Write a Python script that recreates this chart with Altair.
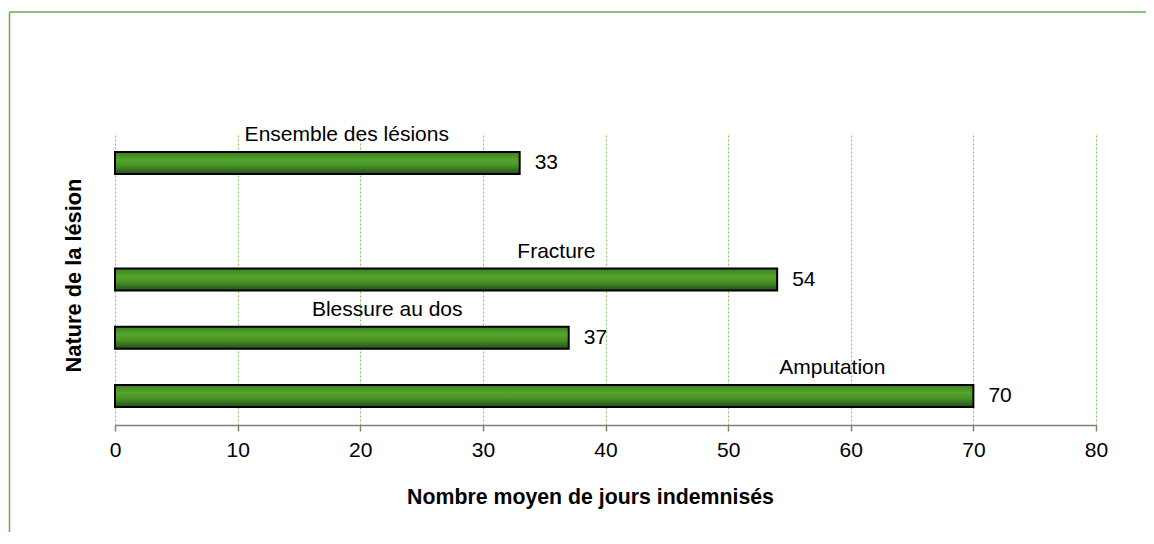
import altair as alt
import pandas as pd

# ---- data ----
categories = ["Ensemble des lésions", "Fracture", "Blessure au dos", "Amputation"]
values = [33, 54, 37, 70]
# where each category name sits along the x axis (in days)
label_anchor = [18.9, 36.0, 22.2, 58.5]
slot_order = ["Ensemble des lésions", " ", "Fracture", "Blessure au dos", "Amputation"]
x_ticks = [0, 10, 20, 30, 40, 50, 60, 70, 80]

x_title = "Nombre moyen de jours indemnisés"
y_title = "Nature de la lésion"

df = pd.DataFrame({"cat": categories, "val": values, "lab": label_anchor})

FONT = "Liberation Sans"
GREEN_FRAME = "#6aab4a"
GRID = "#7cc65a"

W, H = 981, 291

ycale = alt.Scale(domain=slot_order, paddingInner=0, paddingOuter=0)
xscale = alt.Scale(domain=[0, 80], nice=False, zero=True)

grad = alt.Gradient(
    gradient="linear",
    x1=0, x2=0, y1=0, y2=1,
    stops=[
        alt.GradientStop(offset=0, color="#3b7d22"),
        alt.GradientStop(offset=0.35, color="#55a62b"),
        alt.GradientStop(offset=0.6, color="#4a9427"),
        alt.GradientStop(offset=1, color="#22501a"),
    ],
)

base = alt.Chart(df)

bars = base.mark_bar(size=22, stroke="black", strokeWidth=2, color=grad).encode(
    x=alt.X(
        "val:Q",
        scale=xscale,
        axis=alt.Axis(
            values=x_ticks,
            grid=True,
            gridColor=GRID,
            gridDash=[2, 2],
            gridWidth=1,
            domainColor="#808080",
            domainWidth=1.5,
            tickColor="#808080",
            tickWidth=1.5,
            tickSize=6,
            labelFont=FONT,
            labelFontSize=21,
            labelColor="black",
            labelPadding=8,
            labelFlush=False,
            title=x_title,
            titleFont=FONT,
            titleFontSize=21.3,
            titleFontWeight="bold",
            titleColor="black",
            titleX=475,
            titleY=78,
            titleBaseline="alphabetic",
            titleAlign="center",
        ),
    ),
    x2=alt.datum(0),
    y=alt.Y(
        "cat:N",
        scale=ycale,
        sort=slot_order,
        axis=alt.Axis(
            labels=False,
            ticks=False,
            domain=False,
            grid=False,
            title=y_title,
            titleFont=FONT,
            titleFontSize=21.8,
            titleFontWeight="bold",
            titleColor="black",
            titleAngle=270,
            titleX=-35,
            titleY=141,
            titleBaseline="alphabetic",
            titleAlign="center",
        ),
    ),
)

value_text = base.mark_text(
    align="left", baseline="middle", dx=15, font=FONT, fontSize=21, color="black"
).encode(
    x=alt.X("val:Q", scale=xscale),
    y=alt.Y("cat:N", scale=ycale, sort=slot_order),
    text=alt.Text("val:Q"),
)

cat_text = base.mark_text(
    align="center", baseline="alphabetic", dy=-22, font=FONT, fontSize=21, color="black"
).encode(
    x=alt.X("lab:Q", scale=xscale),
    y=alt.Y("cat:N", scale=ycale, sort=slot_order),
    text="cat:N",
)

one = alt.Chart(pd.DataFrame({"k": [0]}))
frame_left = one.mark_rule(color=GREEN_FRAME, strokeWidth=1.5).encode(
    x=alt.value(-105.5), y=alt.value(-122), y2=alt.value(430)
)
frame_top = one.mark_rule(color=GREEN_FRAME, strokeWidth=1.5).encode(
    x=alt.value(-105.5), x2=alt.value(1040), y=alt.value(-122)
)

chart = (
    alt.layer(bars, value_text, cat_text, frame_left, frame_top)
    .properties(
        width=W,
        height=H,
        autosize=alt.AutoSizeParams(type="none"),
        padding={"left": 107, "top": 126, "right": 50, "bottom": 107},
        background="white",
    )
    .configure_view(stroke=None)
)

chart.save("out.html", embed_options={"renderer": "svg", "actions": False})
